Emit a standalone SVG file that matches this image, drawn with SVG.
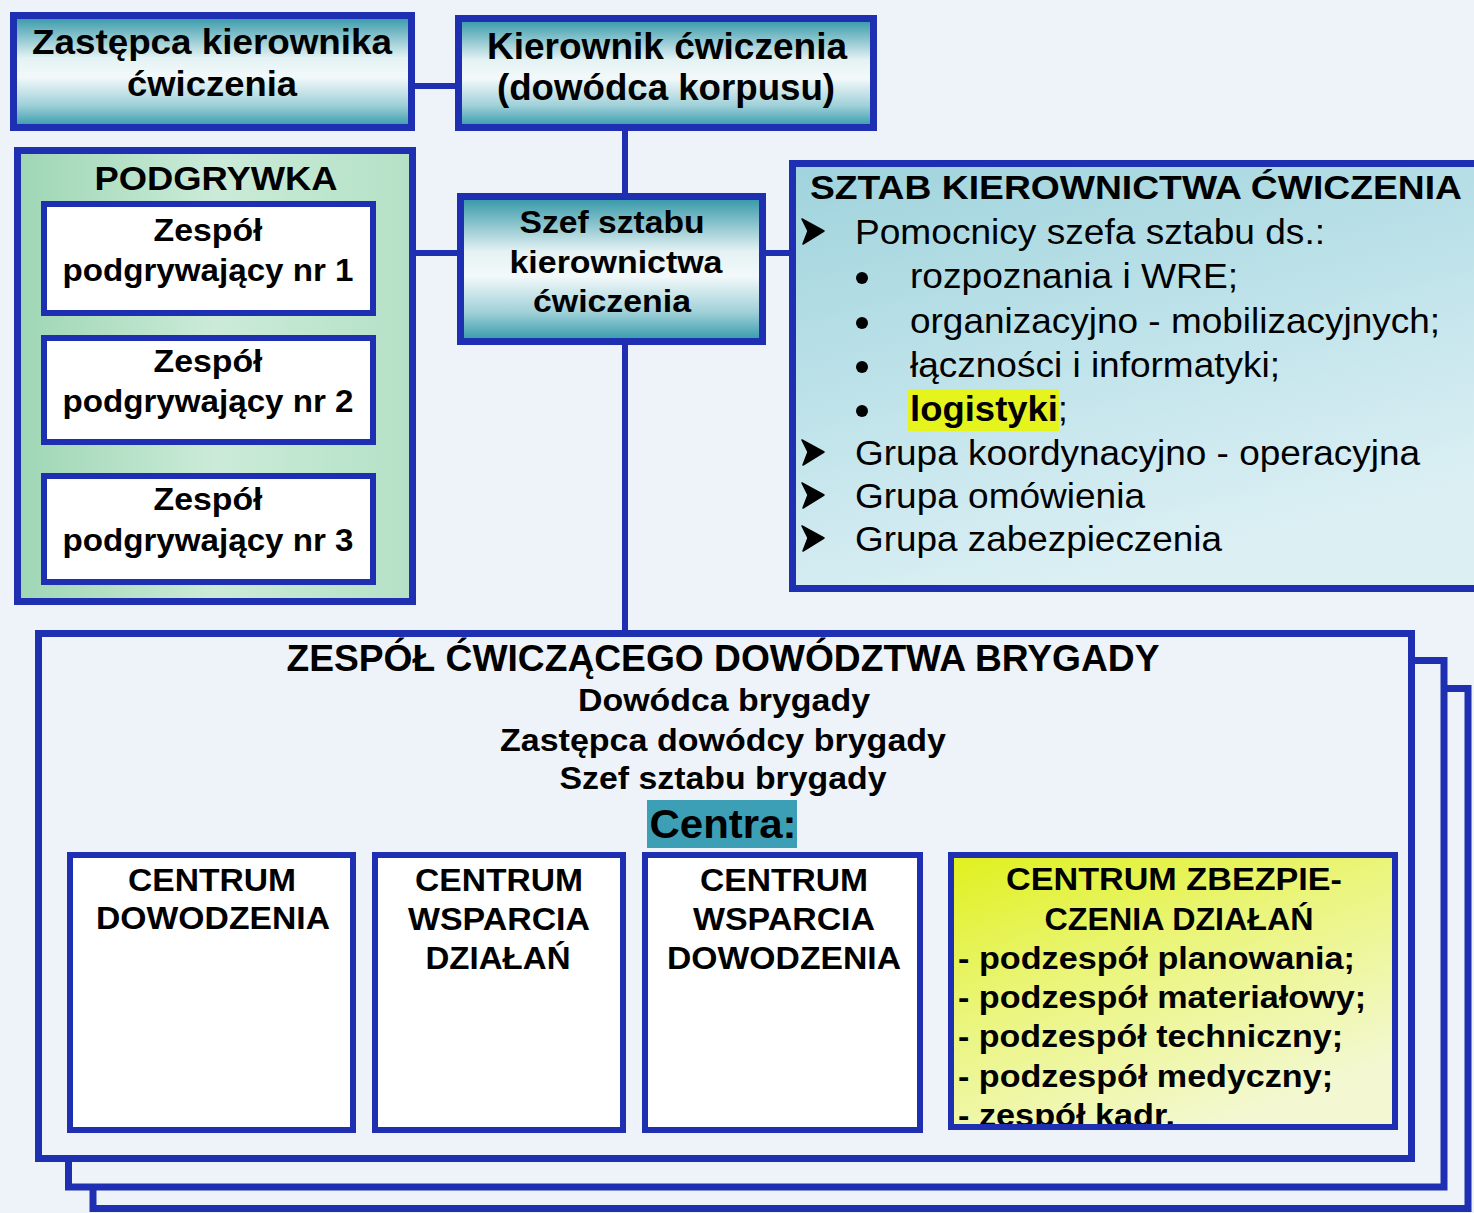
<svg xmlns="http://www.w3.org/2000/svg" width="1474" height="1213" viewBox="0 0 1474 1213">
<defs>
<linearGradient id="gTeal" x1="0" y1="0" x2="0" y2="1">
<stop offset="0" stop-color="#2f95a6"/>
<stop offset="0.38" stop-color="#e4f2f4"/>
<stop offset="0.55" stop-color="#f3f9fa"/>
<stop offset="0.8" stop-color="#9fd0d8"/>
<stop offset="1" stop-color="#2f98aa"/>
</linearGradient>
<linearGradient id="gGreen" x1="0" y1="0" x2="1" y2="0">
<stop offset="0" stop-color="#9ed6b4"/>
<stop offset="0.5" stop-color="#cbebd8"/>
<stop offset="1" stop-color="#b4e1c6"/>
</linearGradient>
<linearGradient id="gSztab" x1="0" y1="0" x2="0.4" y2="1">
<stop offset="0" stop-color="#9fd3dc"/>
<stop offset="0.6" stop-color="#c4e5ec"/>
<stop offset="1" stop-color="#dcf0f4"/>
</linearGradient>
<linearGradient id="gYellow" x1="0" y1="0" x2="0.6" y2="1">
<stop offset="0" stop-color="#e0f01c"/>
<stop offset="0.45" stop-color="#eaf57a"/>
<stop offset="1" stop-color="#f3f8d2"/>
</linearGradient>
<clipPath id="clipD"><rect x="954" y="858" width="438" height="266"/></clipPath>
<g id="arrowBullet">
<path d="M0,0 L22,12 L6,12 Z" fill="#000"/>
<path d="M6,12 L22,12 L1,25 Z" fill="#000"/>
<path d="M0,0 L22,12 L1,25 L6,12 Z" fill="none" stroke="#000" stroke-width="1.5" stroke-linejoin="round"/>
</g>
<style>
.frame{stroke:#1f2fb2;stroke-width:7;}
.thin{stroke:#1f2fb2;stroke-width:6;}
.bg{fill:#eef3f9;}
.white{fill:#ffffff;}
.conn{stroke:#1f2fb2;stroke-width:6;fill:none;}
text{font-family:"Liberation Sans",Arial,sans-serif;fill:#000;}
.b{font-weight:bold;}
.c{text-anchor:middle;}
</style>
</defs>
<rect x="0" y="0" width="1474" height="1213" fill="#eef3f9"/>

<g id="connectors">
<line class="conn" x1="412" y1="86" x2="460" y2="86"/>
<line class="conn" x1="625" y1="128" x2="625" y2="196"/>
<line class="conn" x1="413" y1="253" x2="462" y2="253"/>
<line class="conn" x1="762" y1="253" x2="794" y2="253"/>
<line class="conn" x1="625" y1="341" x2="625" y2="634"/>
</g>

<g id="zastepca">
<rect class="frame" x="13.5" y="15.5" width="398" height="112" fill="url(#gTeal)"/>
<text class="b c" x="212" y="54" font-size="35" textLength="360" lengthAdjust="spacingAndGlyphs">Zastępca kierownika</text>
<text class="b c" x="212" y="96" font-size="35" textLength="170" lengthAdjust="spacingAndGlyphs">ćwiczenia</text>
</g>

<g id="kierownik">
<rect class="frame" x="458.5" y="18.5" width="415" height="109" fill="url(#gTeal)"/>
<text class="b c" x="667" y="59" font-size="36" textLength="360" lengthAdjust="spacingAndGlyphs">Kierownik ćwiczenia</text>
<text class="b c" x="666" y="100" font-size="36" textLength="338" lengthAdjust="spacingAndGlyphs">(dowódca korpusu)</text>
</g>

<g id="szef-sztabu">
<rect class="frame" x="460.5" y="196.5" width="302" height="145" fill="url(#gTeal)"/>
<text class="b c" x="612" y="233" font-size="31" textLength="185" lengthAdjust="spacingAndGlyphs">Szef sztabu</text>
<text class="b c" x="616" y="273" font-size="31" textLength="213" lengthAdjust="spacingAndGlyphs">kierownictwa</text>
<text class="b c" x="612" y="312" font-size="31" textLength="158" lengthAdjust="spacingAndGlyphs">ćwiczenia</text>
</g>

<g id="podgrywka">
<rect class="frame" x="17.5" y="150.5" width="395" height="451" fill="url(#gGreen)"/>
<text class="b c" x="216" y="190" font-size="34" textLength="243" lengthAdjust="spacingAndGlyphs">PODGRYWKA</text>
<g id="zespol1">
<rect class="thin white" x="44" y="204" width="329" height="109"/>
<text class="b c" x="208" y="241" font-size="31" textLength="109" lengthAdjust="spacingAndGlyphs">Zespół</text>
<text class="b c" x="208" y="281" font-size="31" textLength="291" lengthAdjust="spacingAndGlyphs">podgrywający nr 1</text>
</g>
<g id="zespol2">
<rect class="thin white" x="44" y="338" width="329" height="104"/>
<text class="b c" x="208" y="372" font-size="31" textLength="109" lengthAdjust="spacingAndGlyphs">Zespół</text>
<text class="b c" x="208" y="412" font-size="31" textLength="291" lengthAdjust="spacingAndGlyphs">podgrywający nr 2</text>
</g>
<g id="zespol3">
<rect class="thin white" x="44" y="476" width="329" height="106"/>
<text class="b c" x="208" y="510" font-size="31" textLength="109" lengthAdjust="spacingAndGlyphs">Zespół</text>
<text class="b c" x="208" y="551" font-size="31" textLength="291" lengthAdjust="spacingAndGlyphs">podgrywający nr 3</text>
</g>
</g>

<g id="sztab">
<rect class="frame" x="792.5" y="163.5" width="700" height="425" fill="url(#gSztab)"/>
<text class="b" x="810" y="199" font-size="34" textLength="652" lengthAdjust="spacingAndGlyphs">SZTAB KIEROWNICTWA ĆWICZENIA</text>
<use href="#arrowBullet" x="802" y="219"/>
<text x="855" y="244" font-size="35" textLength="470" lengthAdjust="spacingAndGlyphs">Pomocnicy szefa sztabu ds.:</text>
<circle cx="862" cy="278" r="6"/>
<text x="910" y="288" font-size="35" textLength="328" lengthAdjust="spacingAndGlyphs">rozpoznania i WRE;</text>
<circle cx="862" cy="323" r="6"/>
<text x="910" y="333" font-size="35" textLength="530" lengthAdjust="spacingAndGlyphs">organizacyjno - mobilizacyjnych;</text>
<circle cx="862" cy="367" r="6"/>
<text x="910" y="377" font-size="35" textLength="370" lengthAdjust="spacingAndGlyphs">łączności i informatyki;</text>
<circle cx="862" cy="411" r="6"/>
<rect x="908" y="389" width="151" height="42" fill="#e6f41e"/>
<text x="910" y="421" font-size="35"><tspan class="b" textLength="148" lengthAdjust="spacingAndGlyphs">logistyki</tspan><tspan>;</tspan></text>
<use href="#arrowBullet" x="802" y="440"/>
<text x="855" y="465" font-size="35" textLength="565" lengthAdjust="spacingAndGlyphs">Grupa koordynacyjno - operacyjna</text>
<use href="#arrowBullet" x="802" y="483"/>
<text x="855" y="508" font-size="35" textLength="290" lengthAdjust="spacingAndGlyphs">Grupa omówienia</text>
<use href="#arrowBullet" x="802" y="526"/>
<text x="855" y="551" font-size="35" textLength="367" lengthAdjust="spacingAndGlyphs">Grupa zabezpieczenia</text>
</g>

<g id="zespol-cwiczacy">
<rect class="frame bg" x="93" y="688.5" width="1375" height="520"/>
<rect class="frame bg" x="68.5" y="660.5" width="1375.5" height="526.5"/>
<rect class="frame bg" x="38.5" y="633.5" width="1373" height="525"/>
<text class="b c" x="723" y="671" font-size="37" textLength="873" lengthAdjust="spacingAndGlyphs">ZESPÓŁ ĆWICZĄCEGO DOWÓDZTWA BRYGADY</text>
<text class="b c" x="724" y="711" font-size="31" textLength="292" lengthAdjust="spacingAndGlyphs">Dowódca brygady</text>
<text class="b c" x="723" y="751" font-size="31" textLength="446" lengthAdjust="spacingAndGlyphs">Zastępca dowódcy brygady</text>
<text class="b c" x="723" y="789" font-size="31" textLength="327" lengthAdjust="spacingAndGlyphs">Szef sztabu brygady</text>
<rect x="647" y="800" width="150" height="48" fill="#3d9fb6"/>
<text class="b c" x="723" y="838" font-size="41" textLength="147" lengthAdjust="spacingAndGlyphs">Centra:</text>

<g id="centrum-dowodzenia">
<rect class="thin white" x="70" y="855" width="283" height="275"/>
<text class="b c" x="212" y="891" font-size="32" textLength="168" lengthAdjust="spacingAndGlyphs">CENTRUM</text>
<text class="b c" x="213" y="929" font-size="32" textLength="234" lengthAdjust="spacingAndGlyphs">DOWODZENIA</text>
</g>
<g id="centrum-wsparcia-dzialan">
<rect class="thin white" x="375" y="855" width="248" height="275"/>
<text class="b c" x="499" y="891" font-size="32" textLength="168" lengthAdjust="spacingAndGlyphs">CENTRUM</text>
<text class="b c" x="499" y="930" font-size="32" textLength="182" lengthAdjust="spacingAndGlyphs">WSPARCIA</text>
<text class="b c" x="498" y="969" font-size="32" textLength="145" lengthAdjust="spacingAndGlyphs">DZIAŁAŃ</text>
</g>
<g id="centrum-wsparcia-dowodzenia">
<rect class="thin white" x="645" y="855" width="275" height="275"/>
<text class="b c" x="784" y="891" font-size="32" textLength="168" lengthAdjust="spacingAndGlyphs">CENTRUM</text>
<text class="b c" x="784" y="930" font-size="32" textLength="182" lengthAdjust="spacingAndGlyphs">WSPARCIA</text>
<text class="b c" x="784" y="969" font-size="32" textLength="234" lengthAdjust="spacingAndGlyphs">DOWODZENIA</text>
</g>
<g id="centrum-zabezpieczenia">
<rect class="thin" x="951" y="855" width="444" height="272" fill="url(#gYellow)"/>
<g clip-path="url(#clipD)">
<text class="b c" x="1174" y="890" font-size="32" textLength="336" lengthAdjust="spacingAndGlyphs">CENTRUM ZBEZPIE-</text>
<text class="b c" x="1179" y="930" font-size="32" textLength="269" lengthAdjust="spacingAndGlyphs">CZENIA DZIAŁAŃ</text>
<text class="b" x="958" y="969" font-size="32" textLength="397" lengthAdjust="spacingAndGlyphs">- podzespół planowania;</text>
<text class="b" x="958" y="1008" font-size="32" textLength="408" lengthAdjust="spacingAndGlyphs">- podzespół materiałowy;</text>
<text class="b" x="958" y="1047" font-size="32" textLength="385" lengthAdjust="spacingAndGlyphs">- podzespół techniczny;</text>
<text class="b" x="958" y="1087" font-size="32" textLength="375" lengthAdjust="spacingAndGlyphs">- podzespół medyczny;</text>
<text class="b" x="958" y="1126" font-size="32" textLength="217" lengthAdjust="spacingAndGlyphs">- zespół kadr.</text>
</g>
</g>
</g>
</svg>
